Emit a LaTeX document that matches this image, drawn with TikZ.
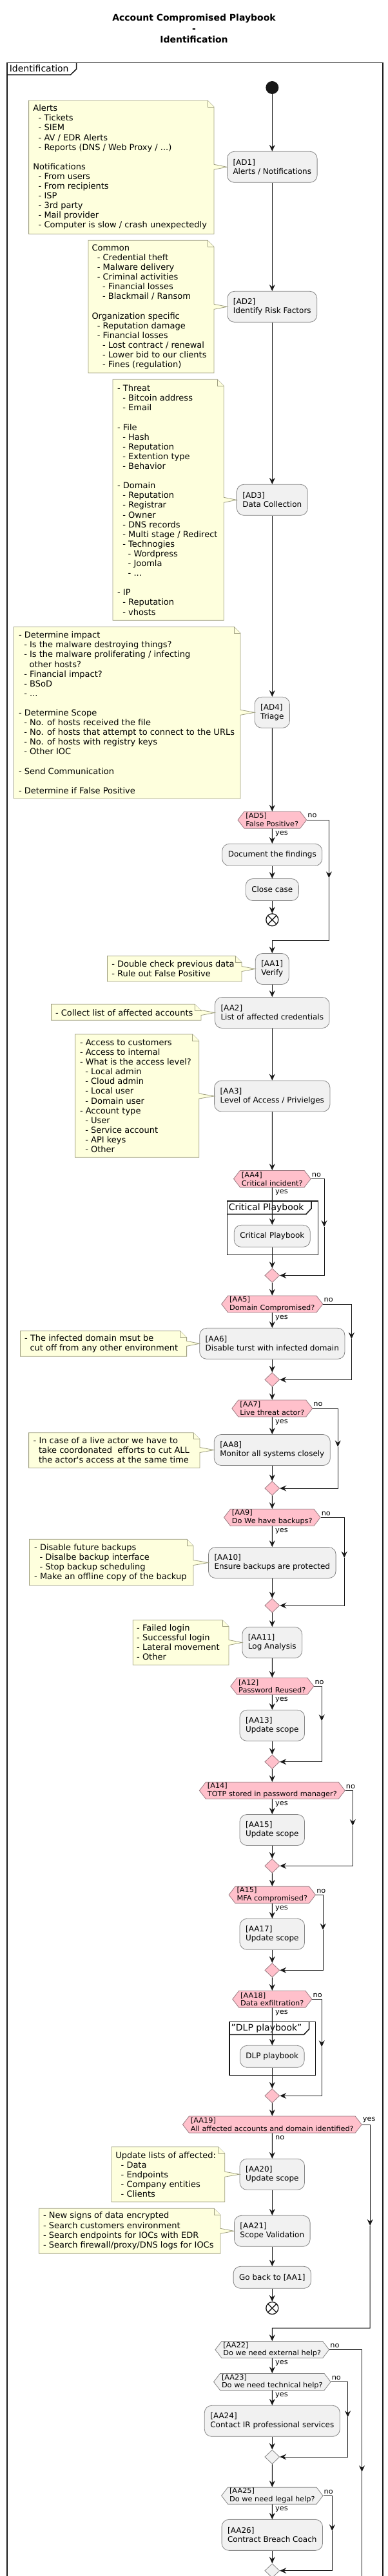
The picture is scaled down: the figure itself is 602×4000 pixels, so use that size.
\documentclass[tikz,border=0pt]{standalone}
\usepackage{fontspec}
\setmainfont{DejaVu Sans}
\newfontfamily\hexfam[FakeStretch=1.03]{DejaVu Sans}
\usetikzlibrary{arrows.meta,positioning,shapes.geometric,shapes.symbols}

\definecolor{boxfill}{HTML}{F1F1F1}
\definecolor{boxline}{HTML}{858585}
\definecolor{notefill}{HTML}{FEFFDD}
\definecolor{noteedge}{HTML}{9E9E80}
\definecolor{hexfill}{HTML}{FFC0CB}
\definecolor{hexedge}{HTML}{9A7B82}
\definecolor{ink}{HTML}{181818}

\newcommand{\ind}{\hspace*{8.3pt}}
% note outline: left, top, right, bottom, box it points to
\newcommand{\notefrm}[5]{%
  \coordinate (nr) at (#3,#2);
  \coordinate (tu) at ([yshift=4pt]#5.west);
  \coordinate (td) at ([yshift=-4pt]#5.west);
  \filldraw[notebd] (#1,#2) -- (#3-10,#2) -- (#3,#2+10) -- (tu -| nr) -- (#5.west) -- (td -| nr) -- (#3,#4) -- (#1,#4) -- cycle;
  \draw[notebd] (#3-10,#2) -- (#3-10,#2+10) -- (#3,#2+10);
}

\begin{document}
\begin{tikzpicture}[x=1pt, y=-1pt,
    act/.style = {rectangle, rounded corners=11pt, draw=boxline, line width=0.8pt, fill=boxfill, align=left, font=\fontsize{12}{14}\selectfont, inner xsep=9pt, inner ysep=0pt, minimum height=48pt},
    act1/.style = {act, minimum height=34pt},
    hex/.style = {signal, signal to=east and west, signal pointer angle=105, draw=hexedge, line width=0.8pt, fill=hexfill, align=left, font=\hexfam\fontsize{11}{12.8}\selectfont, inner xsep=2.5pt, inner ysep=0.5pt, minimum height=26pt},
    hexg/.style = {hex, fill=boxfill, draw=boxline},
    merge/.style = {diamond, draw=hexedge, line width=0.8pt, fill=hexfill, minimum width=23pt, minimum height=22pt, inner sep=0pt},
    mergeg/.style = {merge, fill=boxfill, draw=boxline},
    startn/.style = {circle, fill=ink, minimum size=20pt, inner sep=0pt},
    endn/.style = {circle, draw=ink, line width=1.3pt, fill=white, minimum size=19pt, inner sep=0pt,
      path picture={\draw[ink, line width=1.3pt] ([shift={(45:9.5pt)}]path picture bounding box.center) -- ([shift={(225:9.5pt)}]path picture bounding box.center) ([shift={(135:9.5pt)}]path picture bounding box.center) -- ([shift={(-45:9.5pt)}]path picture bounding box.center);}},
    flow/.style = {-{Stealth[length=10pt,width=9pt,inset=3.5pt]}, line width=1pt, draw=ink},
    wire/.style = {line width=1pt, draw=ink},
    lbl/.style = {font=\hexfam\fontsize{11}{12.8}\selectfont, inner sep=1pt},
    note/.style = {align=left, font=\fontsize{13}{15.1}\selectfont, inner sep=0pt, anchor=west},
    notebd/.style = {draw=noteedge, fill=notefill, line width=0.8pt},
    frm/.style = {draw=ink, line width=1.5pt},
    frmlbl/.style = {font=\fontsize{14}{16}\selectfont, anchor=west, inner sep=0pt},
    ttl/.style = {font=\bfseries\fontsize{14}{16.7}\selectfont, align=center}]
    \useasboundingbox (0,0) rectangle (602,4000);
    \fill[white] (0,0) rectangle (602,4000);
    \clip (0,0) rectangle (602,4000);

    \node[ttl] (title) at (301,44.3) {Account Compromised Playbook\\-\\Identification};

    % outer frame
    \draw[frm] (10.8,4010) -- (10.8,97.3) -- (594,97.3) -- (594,4010);
    \draw[frm] (10.8,116) -- (109.6,116) -- (118.5,107.3) -- (118.5,97.3);
    \node[frmlbl] (idlbl) at (14.6,106.5) {Identification};

    \node[startn] (start) at (422.3,136) {};
    \node[act, node distance=123.3pt, below of=start] (ad1) {[AD1]\\Alerts / Notifications};
    \node[act, node distance=217pt, below of=ad1] (ad2) {[AD2]\\Identify Risk Factors};
    \node[act, node distance=300pt, below of=ad2] (ad3) {[AD3]\\Data Collection};
    \node[act, node distance=330pt, below of=ad3] (ad4) {[AD4]\\Triage};
    \node[hex, node distance=166.9pt, below of=ad4] (ad5) {[AD5]\\False Positive?};
    \node[act1, node distance=54.1pt, below of=ad5] (doc) {Document the findings};
    \node[act1, node distance=54.2pt, below of=doc] (close) {Close case};
    \node[endn, node distance=46.8pt, below of=close] (end1) {};
    \node[act, node distance=76.2pt, below of=end1] (aa1) {[AA1]\\Verify};
    \node[act, node distance=68pt, below of=aa1] (aa2) {[AA2]\\List of affected credentials};
    \node[act, node distance=129.5pt, below of=aa2] (aa3) {[AA3]\\Level of Access / Privielges};
    \node[hex, node distance=128.5pt, below of=aa3] (aa4) {[AA4]\\Critical incident?};
    \node[act1, node distance=88.8pt, below of=aa4] (cpb) {Critical Playbook};
    \node[merge, node distance=61.2pt, below of=cpb] (m1) {};
    \node[hex, node distance=44.5pt, below of=m1] (aa5) {[AA5]\\Domain Compromised?};
    \node[act, node distance=61.3pt, below of=aa5] (aa6) {[AA6]\\Disable turst with infected domain};
    \node[merge, node distance=56pt, below of=aa6] (m2) {};
    \node[hex, node distance=44.7pt, below of=m2] (aa7) {[AA7]\\Live threat actor?};
    \node[act, node distance=64.5pt, below of=aa7] (aa8) {[AA8]\\Monitor all systems closely};
    \node[merge, node distance=59.5pt, below of=aa8] (m3) {};
    \node[hex, node distance=45.3pt, below of=m3] (aa9) {[AA9]\\Do We have backups?};
    \node[act, node distance=70.2pt, below of=aa9] (aa10) {[AA10]\\Ensure backups are protected};
    \node[merge, node distance=66.5pt, below of=aa10] (m4) {};
    \node[act, node distance=57.5pt, below of=m4] (aa11) {[AA11]\\Log Analysis};
    \node[hex, node distance=67.8pt, below of=aa11] (a12) {[A12]\\Password Reused?};
    \node[act, node distance=61pt, below of=a12] (aa13) {[AA13]\\Update scope};
    \node[merge, node distance=56.4pt, below of=aa13] (m5) {};
    \node[hex, node distance=44.6pt, below of=m5] (a14) {[A14]\\TOTP stored in password manager?};
    \node[act, node distance=61.2pt, below of=a14] (aa15) {[AA15]\\Update scope};
    \node[merge, node distance=55.8pt, below of=aa15] (m6) {};
    \node[hex, node distance=45pt, below of=m6] (a15) {[A15]\\MFA compromised?};
    \node[act, node distance=61pt, below of=a15] (aa17) {[AA17]\\Update scope};
    \node[merge, node distance=56pt, below of=aa17] (m7) {};
    \node[hex, node distance=45pt, below of=m7] (aa18) {[AA18]\\Data exfiltration?};
    \node[act1, node distance=89pt, below of=aa18] (dlp) {DLP playbook};
    \node[merge, node distance=61pt, below of=dlp] (m8) {};
    \node[hex, node distance=44.7pt, below of=m8] (aa19) {[AA19]\\All affected accounts and domain identified?};
    \node[act, node distance=77.2pt, below of=aa19] (aa20) {[AA20]\\Update scope};
    \node[act, node distance=88.1pt, below of=aa20] (aa21) {[AA21]\\Scope Validation};
    \node[act1, node distance=72pt, below of=aa21] (back) {Go back to [AA1]};
    \node[endn, node distance=47.7pt, below of=back] (end2) {};
    \node[hexg, node distance=64.5pt, below of=end2] (aa22) {[AA22]\\Do we need external help?};
    \node[hexg, node distance=50pt, below of=aa22] (aa23) {[AA23]\\Do we need technical help?};
    \node[act, node distance=60.8pt, below of=aa23] (aa24) {[AA24]\\Contact IR professional services};
    \node[mergeg, node distance=55.7pt, below of=aa24] (m9) {};
    \node[hexg, node distance=60.3pt, below of=m9] (aa25) {[AA25]\\Do we need legal help?};
    \node[act, node distance=61pt, below of=aa25] (aa26) {[AA26]\\Contract Breach Coach};
    \node[mergeg, node distance=55.4pt, below of=aa26] (m10) {};

    % sub playbook frames
    \draw[frm] (352.3,1865) rectangle (493.5,1948.7);
    \draw[frm] (352.3,1885.3) -- (475,1885.3) -- (483,1876.5) -- (483,1865);
    \node[frmlbl] (cpl) at (354.6,1875.3) {Critical Playbook};
    \draw[frm] (355.8,3139.3) rectangle (489.6,3222.7);
    \draw[frm] (355.8,3159.3) -- (471.5,3159.3) -- (479.6,3150.8) -- (479.6,3139.3);
    \node[frmlbl] (dlpl) at (358.5,3149.3) {"DLP playbook"};

    % notes
    \notefrm{44.6}{156}{332}{363.3}{ad1}
    \node[note] (ad1n) at (51.2,259.8) {Alerts\\
      \ind- Tickets\\
      \ind- SIEM\\
      \ind- AV / EDR Alerts\\
      \ind- Reports (DNS / Web Proxy / ...)\\
      \\
      Notifications\\
      \ind- From users\\
      \ind- From recipients\\
      \ind- ISP\\
      \ind- 3rd party\\
      \ind- Mail provider\\
      \ind- Computer is slow / crash unexpectedly};
    \notefrm{136.9}{373.3}{332}{579}{ad2}
    \node[note] (ad2n) at (142.3,476.5) {Common\\
      \ind- Credential theft\\
      \ind- Malware delivery\\
      \ind- Criminal activities\\
      \ind\ind- Financial losses\\
      \ind\ind- Blackmail / Ransom\\
      \\
      Organization specific\\
      \ind- Reputation damage\\
      \ind- Financial losses\\
      \ind\ind- Lost contract / renewal\\
      \ind\ind- Lower bid to our clients\\
      \ind\ind- Fines (regulation)};
    \notefrm{175}{589.3}{347.3}{963.3}{ad3}
    \node[note] (ad3n) at (181.9,776.5) {- Threat\\
      \ind- Bitcoin address\\
      \ind- Email\\
      \\
      - File\\
      \ind- Hash\\
      \ind- Reputation\\
      \ind- Extention type\\
      \ind- Behavior\\
      \\
      - Domain\\
      \ind- Reputation\\
      \ind- Registrar\\
      \ind- Owner\\
      \ind- DNS records\\
      \ind- Multi stage / Redirect\\
      \ind- Technogies\\
      \ind\ind- Wordpress\\
      \ind\ind- Joomla\\
      \ind\ind- ...\\
      \\
      - IP\\
      \ind- Reputation\\
      \ind- vhosts};
    \notefrm{21.5}{973.3}{373}{1240}{ad4}
    \node[note] (ad4n) at (28.8,1106.7) {- Determine impact\\
      \ind- Is the malware destroying things?\\
      \ind- Is the malware proliferating / infecting\\
      \ind\ind other hosts?\\
      \ind- Financial impact?\\
      \ind- BSoD\\
      \ind- ...\\
      \\
      - Determine Scope\\
      \ind- No. of hosts received the file\\
      \ind- No. of hosts that attempt to connect to the URLs\\
      \ind- No. of hosts with registry keys\\
      \ind- Other IOC\\
      \\
      - Send Communication\\
      \\
      - Determine if False Positive};
    \notefrm{166.5}{1484.3}{375}{1524}{aa1}
    \node[note] (aa1n) at (173.1,1504) {- Double check previous data\\- Rule out False Positive};
    \notefrm{79.6}{1559.3}{312}{1584.3}{aa2}
    \node[note] (aa2n) at (85.8,1572.3) {- Collect list of affected accounts};
    \notefrm{116.5}{1606}{308.8}{1797.3}{aa3}
    \node[note] (aa3n) at (123.8,1701.8) {- Access to customers\\
      - Access to internal\\
      - What is the access level?\\
      \ind- Local admin\\
      \ind- Cloud admin\\
      \ind- Local user\\
      \ind- Domain user\\
      - Account type\\
      \ind- User\\
      \ind- Service account\\
      \ind- API keys\\
      \ind- Other};
    \notefrm{31.5}{2066.7}{289.6}{2106.3}{aa6}
    \node[note] (aa6n) at (38,2086.2) {- The infected domain msut be\\\ind cut off from any other environment};
    \notefrm{44.6}{2224.7}{310}{2279.3}{aa8}
    \node[note] (aa8n) at (51.5,2251.7) {- In case of a live actor we have to\\
      \ind take coordonated\ \ efforts to cut ALL\\
      \ind the actor\textquotesingle s access at the same time};
    \notefrm{45.4}{2390.3}{300}{2461.7}{aa10}
    \node[note] (aa10n) at (53,2426.3) {- Disable future backups\\
      \ind- Disalbe backup interface\\
      \ind- Stop backup scheduling\\
      - Make an offline copy of the backup};
    \notefrm{206.2}{2515.7}{355}{2585.3}{aa11}
    \node[note] (aa11n) at (212,2550) {- Failed login\\- Successful login\\- Lateral movement\\- Other};
    \notefrm{173}{3333.7}{348.8}{3419}{aa20}
    \node[note] (aa20n) at (179.2,3376.5) {Update lists of affected:\\
      \ind- Data\\
      \ind- Endpoints\\
      \ind- Company entities\\
      \ind- Clients};
    \notefrm{60.4}{3429.3}{342}{3499.3}{aa21}
    \node[note] (aa21n) at (66.9,3464) {- New signs of data encrypted\\
      - Search customers environment\\
      - Search endpoints for IOCs with EDR\\
      - Search firewall/proxy/DNS logs for IOCs};

    % branch labels
    \node[lbl, anchor=north west] (ad5y) at ([xshift=3.7pt,yshift=-2.6pt]ad5.south) {yes};
    \node[lbl, anchor=south west] (ad5no) at ([yshift=1.9pt]ad5.east) {no};
    \node[lbl, anchor=north west] (aa4y) at ([xshift=3.7pt,yshift=-2.6pt]aa4.south) {yes};
    \node[lbl, anchor=south west] (aa4no) at ([yshift=1.9pt]aa4.east) {no};
    \node[lbl, anchor=north west] (aa5y) at ([xshift=3.7pt,yshift=-2.6pt]aa5.south) {yes};
    \node[lbl, anchor=south west] (aa5no) at ([yshift=1.9pt]aa5.east) {no};
    \node[lbl, anchor=north west] (aa7y) at ([xshift=3.7pt,yshift=-2.6pt]aa7.south) {yes};
    \node[lbl, anchor=south west] (aa7no) at ([yshift=1.9pt]aa7.east) {no};
    \node[lbl, anchor=north west] (aa9y) at ([xshift=3.7pt,yshift=-2.6pt]aa9.south) {yes};
    \node[lbl, anchor=south west] (aa9no) at ([yshift=1.9pt]aa9.east) {no};
    \node[lbl, anchor=north west] (a12y) at ([xshift=3.7pt,yshift=-2.6pt]a12.south) {yes};
    \node[lbl, anchor=south west] (a12no) at ([yshift=1.9pt]a12.east) {no};
    \node[lbl, anchor=north west] (a14y) at ([xshift=3.7pt,yshift=-2.6pt]a14.south) {yes};
    \node[lbl, anchor=south west] (a14no) at ([yshift=1.9pt]a14.east) {no};
    \node[lbl, anchor=north west] (a15y) at ([xshift=3.7pt,yshift=-2.6pt]a15.south) {yes};
    \node[lbl, anchor=south west] (a15no) at ([yshift=1.9pt]a15.east) {no};
    \node[lbl, anchor=north west] (aa18y) at ([xshift=3.7pt,yshift=-2.6pt]aa18.south) {yes};
    \node[lbl, anchor=south west] (aa18no) at ([yshift=1.9pt]aa18.east) {no};
    \node[lbl, anchor=north west] (aa19no) at ([xshift=3.7pt,yshift=-2.6pt]aa19.south) {no};
    \node[lbl, anchor=south west] (aa19y) at ([yshift=1.9pt]aa19.east) {yes};
    \node[lbl, anchor=north west] (aa22y) at ([xshift=3.7pt,yshift=-2.6pt]aa22.south) {yes};
    \node[lbl, anchor=south west] (aa22no) at ([yshift=1.9pt]aa22.east) {no};
    \node[lbl, anchor=north west] (aa23y) at ([xshift=3.7pt,yshift=-2.6pt]aa23.south) {yes};
    \node[lbl, anchor=south west] (aa23no) at ([yshift=1.9pt]aa23.east) {no};
    \node[lbl, anchor=north west] (aa25y) at ([xshift=3.7pt,yshift=-2.6pt]aa25.south) {yes};
    \node[lbl, anchor=south west] (aa25no) at ([yshift=1.9pt]aa25.east) {no};

    % bends of the side branches
    \coordinate (n5) at (510.4,1363.3);
    \coordinate (j5) at (422.3,1460);
    \coordinate (n4) at (503,1905);
    \coordinate (n5b) at (545.4,2079);
    \coordinate (n7) at (524.2,2246.7);
    \coordinate (n9) at (534.2,2419);
    \coordinate (n12) at (499.2,2672.3);
    \coordinate (n14) at (547.3,2835);
    \coordinate (n15) at (501.2,2996.7);
    \coordinate (n18) at (499.2,3178.3);
    \coordinate (n19) at (574.2,3456);
    \coordinate (j19) at (422.3,3615);
    \coordinate (n22) at (561.5,3838.3);
    \coordinate (e22) at (561.5,4010);
    \coordinate (n23) at (539.6,3753.3);
    \coordinate (n25) at (515.4,3930);

    \draw[flow] (start) -- (ad1);
    \draw[flow] (ad1) -- (ad2);
    \draw[flow] (ad2) -- (ad3);
    \draw[flow] (ad3) -- (ad4);
    \draw[flow] (ad4) -- (ad5);
    \draw[flow] (ad5) -- (doc);
    \draw[flow] (doc) -- (close);
    \draw[flow] (close) -- (end1);
    \draw[flow] (ad5.east) -| (n5);
    \draw[flow] (n5) |- (j5) -- (aa1);
    \draw[flow] (aa1) -- (aa2);
    \draw[flow] (aa2) -- (aa3);
    \draw[flow] (aa3) -- (aa4);
    \draw[flow] (aa4) -- (cpb);
    \draw[flow] (cpb) -- (m1);
    \draw[flow] (aa4.east) -| (n4);
    \draw[flow] (n4) |- (m1);
    \draw[flow] (m1) -- (aa5);
    \draw[flow] (aa5) -- (aa6);
    \draw[flow] (aa6) -- (m2);
    \draw[flow] (aa5.east) -| (n5b);
    \draw[flow] (n5b) |- (m2);
    \draw[flow] (m2) -- (aa7);
    \draw[flow] (aa7) -- (aa8);
    \draw[flow] (aa8) -- (m3);
    \draw[flow] (aa7.east) -| (n7);
    \draw[flow] (n7) |- (m3);
    \draw[flow] (m3) -- (aa9);
    \draw[flow] (aa9) -- (aa10);
    \draw[flow] (aa10) -- (m4);
    \draw[flow] (aa9.east) -| (n9);
    \draw[flow] (n9) |- (m4);
    \draw[flow] (m4) -- (aa11);
    \draw[flow] (aa11) -- (a12);
    \draw[flow] (a12) -- (aa13);
    \draw[flow] (aa13) -- (m5);
    \draw[flow] (a12.east) -| (n12);
    \draw[flow] (n12) |- (m5);
    \draw[flow] (m5) -- (a14);
    \draw[flow] (a14) -- (aa15);
    \draw[flow] (aa15) -- (m6);
    \draw[flow] (a14.east) -| (n14);
    \draw[flow] (n14) |- (m6);
    \draw[flow] (m6) -- (a15);
    \draw[flow] (a15) -- (aa17);
    \draw[flow] (aa17) -- (m7);
    \draw[flow] (a15.east) -| (n15);
    \draw[flow] (n15) |- (m7);
    \draw[flow] (m7) -- (aa18);
    \draw[flow] (aa18) -- (dlp);
    \draw[flow] (dlp) -- (m8);
    \draw[flow] (aa18.east) -| (n18);
    \draw[flow] (n18) |- (m8);
    \draw[flow] (m8) -- (aa19);
    \draw[flow] (aa19) -- (aa20);
    \draw[flow] (aa20) -- (aa21);
    \draw[flow] (aa21) -- (back);
    \draw[flow] (back) -- (end2);
    \draw[flow] (aa19.east) -| (n19);
    \draw[flow] (n19) |- (j19) -- (aa22);
    \draw[flow] (aa22) -- (aa23);
    \draw[flow] (aa23) -- (aa24);
    \draw[flow] (aa24) -- (m9);
    \draw[flow] (aa23.east) -| (n23);
    \draw[flow] (n23) |- (m9);
    \draw[flow] (aa22.east) -| (n22);
    \draw[wire] (n22) -- (e22);
    \draw[flow] (m9) -- (aa25);
    \draw[flow] (aa25) -- (aa26);
    \draw[flow] (aa26) -- (m10);
    \draw[flow] (aa25.east) -| (n25);
    \draw[flow] (n25) |- (m10);
\end{tikzpicture}
\end{document}
